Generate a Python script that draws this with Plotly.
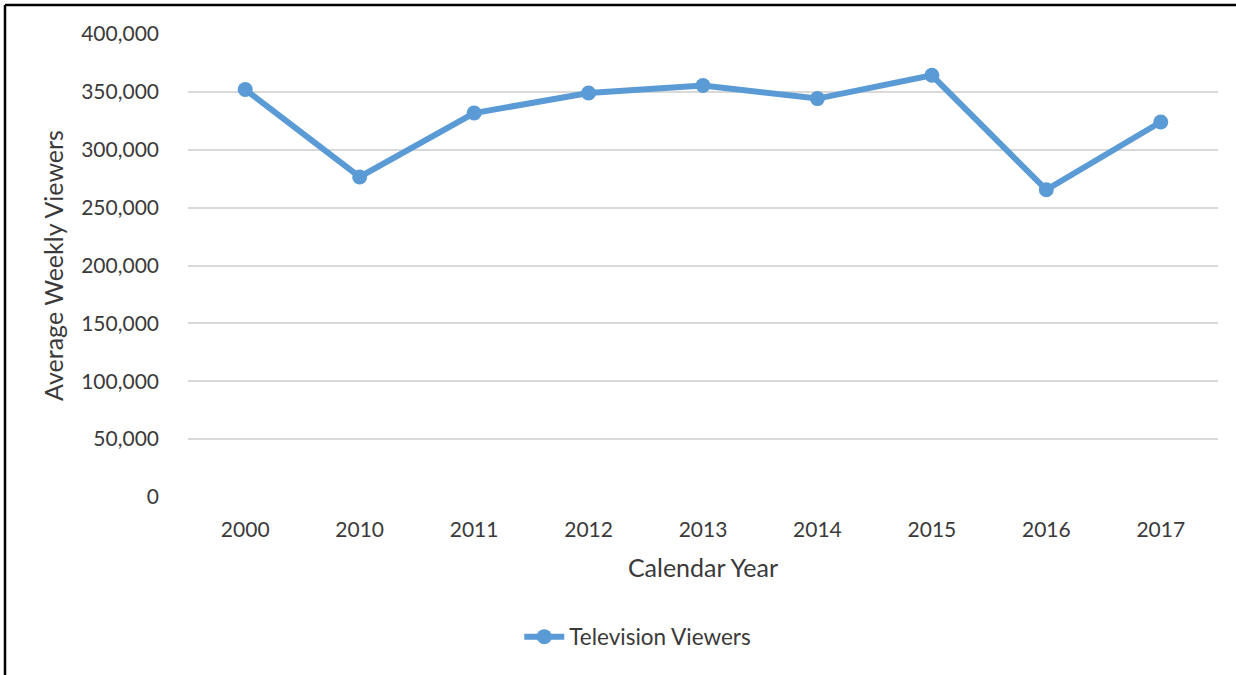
import plotly.graph_objects as go

years = ["2000", "2010", "2011", "2012", "2013", "2014", "2015", "2016", "2017"]
viewers = [352000, 276500, 331700, 349000, 355500, 344200, 364300, 265400, 324000]
y_ticks = [0, 50000, 100000, 150000, 200000, 250000, 300000, 350000, 400000]
y_tick_labels = ["0", "50,000", "100,000", "150,000", "200,000", "250,000", "300,000", "350,000", "400,000"]

FONT = "Lato"
TXT = "#3a3a3a"
BLUE = "#5B9BD5"

fig = go.Figure()
fig.add_trace(go.Scatter(
    x=years, y=viewers, mode="lines+markers", name="Television Viewers",
    line=dict(color=BLUE, width=6),
    marker=dict(color=BLUE, size=15),
))

L, R, T, B = 188, 18, 34, 178
W, H = 1236, 675
pw, ph = W - L - R, H - T - B

fig.update_layout(
    width=W, height=H,
    margin=dict(l=L, r=R, t=T, b=B, autoexpand=False),
    paper_bgcolor="white", plot_bgcolor="white",
    font=dict(family=FONT, size=21, color=TXT),
    showlegend=True,
    legend=dict(orientation="h", xref="container", yref="container",
                x=0.516, xanchor="center", y=1 - 637 / H, yanchor="middle",
                font=dict(size=22.5, color=TXT), itemwidth=40),
    xaxis=dict(type="category", range=[-0.5, len(years) - 0.5],
               showgrid=False, showline=False, zeroline=False,
               ticks="", ticklabelstandoff=18,
               title=dict(text="Calendar Year", standoff=19, font=dict(size=25, color=TXT))),
    yaxis=dict(range=[0, 400000], tickvals=y_ticks, ticktext=y_tick_labels,
               showgrid=True, gridcolor="#D9D9D9", gridwidth=1.5,
               zeroline=False, showline=False, ticks="", ticklabelstandoff=28,
               title=dict(text="Average Weekly Viewers", standoff=10, font=dict(size=25, color=TXT))),
    shapes=[
        dict(type="line", xref="paper", yref="paper",
             x0=(5 - L) / pw, x1=(W - L) / pw, y0=1 + (T - 5) / ph, y1=1 + (T - 5) / ph,
             line=dict(color="black", width=2.5)),
        dict(type="line", xref="paper", yref="paper",
             x0=(5 - L) / pw, x1=(5 - L) / pw, y0=1 + (T - 5) / ph, y1=-(B) / ph,
             line=dict(color="black", width=2.5)),
    ],
)

fig.write_html("out.html", config={"displayModeBar": False},
               post_script="document.body.style.margin='0';document.body.style.overflow='hidden';document.documentElement.style.overflow='hidden';")
